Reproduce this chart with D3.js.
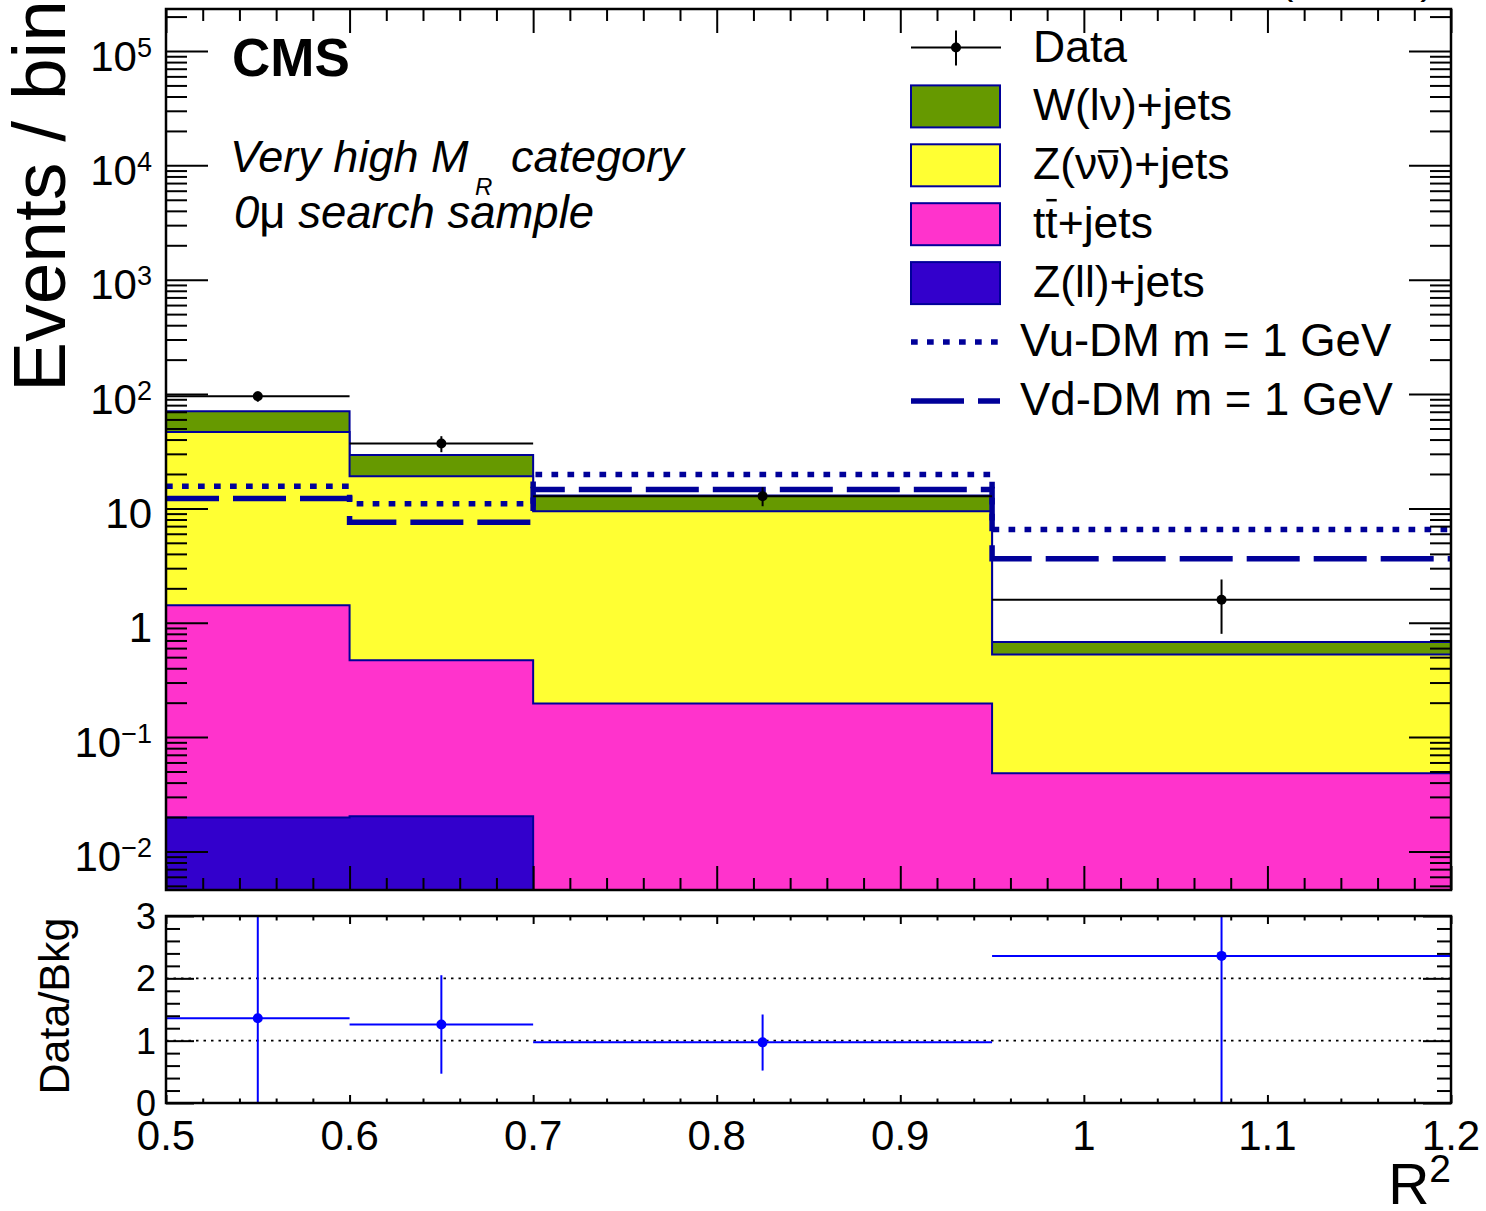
<!DOCTYPE html>
<html><head><meta charset="utf-8">
<script src="https://cdn.jsdelivr.net/npm/d3@7"></script>
<style>
body{margin:0;background:#fff}
svg{display:block}
text{font-family:"Liberation Sans",Arial,Helvetica,sans-serif;fill:#000}
</style>
</head><body>
<svg id="c" width="1486" height="1211"></svg>
<script>
// ---------------- data ----------------
const binEdges = [0.5, 0.6, 0.7, 0.95, 1.2];
const wlnu  = [24.1, 10.3, 3.52, 0.149];
const znunu = [45.2, 18.6, 9.25, 0.48];
const ttbar = [1.40, 0.449, 0.197, 0.0483];
const zll   = [0.0198, 0.0203, 0, 0];
const dataVals = [95.5, 36.9, 12.8, 1.59];
const dataLo   = [85.7, 31.0, 10.45, 0.80];
const dataHi   = [105.3, 42.8, 15.3, 2.39];
const vuDM = [15.6, 11.0, 19.8, 6.55];
const vdDM = [12.2, 7.58, 14.6, 3.63];
const ratioVals = [1.36, 1.26, 0.973, 2.36];
const ratioLo   = [0, 0.47, 0.52, 0];
const ratioHi   = [3.2, 2.05, 1.42, 3.2];
const xTickVals   = [0.5, 0.6, 0.7, 0.8, 0.9, 1.0, 1.1, 1.2];
const xTickLabels = ["0.5", "0.6", "0.7", "0.8", "0.9", "1", "1.1", "1.2"];
const yTickVals = [1e-2, 1e-1, 1, 10, 1e2, 1e3, 1e4, 1e5];
const yTickBase = ["10", "10", "1", "10", "10", "10", "10", "10"];
const yTickExp  = ["\u22122", "\u22121", "", "", "2", "3", "4", "5"];
const ratioTickVals = [0, 1, 2, 3];
const ratioTickLabels = ["0", "1", "2", "3"];
const legendNames = ["Data", "W(l\u03bd)+jets", "Z(\u03bd\u03bd)+jets", "tt+jets", "Z(ll)+jets", "Vu-DM m = 1 GeV", "Vd-DM m = 1 GeV"];
const colW = "#669900", colZ = "#ffff33", colT = "#ff33cc", colL = "#3300cc", navy = "#000099";

// ---------------- layout ----------------
const L = 166, R = 1451, T = 9, B = 890, RT = 916, RB = 1103;
const svg = d3.select("#c");
const x = d3.scaleLinear().domain([0.5, 1.2]).range([L, R]);
const y = d3.scaleLog().domain([0.0046, 2.33e5]).range([B, T]);
const yr = d3.scaleLinear().domain([0, 3]).range([RB, RT]);
const yv = v => v <= y.domain()[0] ? B : y(v);

const defs = svg.append("defs");
defs.append("clipPath").attr("id", "cm").append("rect").attr("x", L).attr("y", T).attr("width", R - L).attr("height", B - T);
defs.append("clipPath").attr("id", "cr").append("rect").attr("x", L).attr("y", RT).attr("width", R - L).attr("height", RB - RT);

const main = svg.append("g").attr("clip-path", "url(#cm)");
const stepPts = vals => vals.flatMap((v, i) => [[binEdges[i], v], [binEdges[i + 1], v]]);

// stacked cumulative
const cL = zll.slice();
const cT = cL.map((v, i) => v + ttbar[i]);
const cZ = cT.map((v, i) => v + znunu[i]);
const cW = cZ.map((v, i) => v + wlnu[i]);
const layers = [[cW, colW], [cZ, colZ], [cT, colT], [cL, colL]];
const area = d3.area().x(d => x(d[0])).y0(B).y1(d => yv(d[1]));
const line = d3.line().x(d => x(d[0])).y(d => yv(d[1]));
layers.forEach(([vals, col]) => {
  const pts = stepPts(vals);
  main.append("path").attr("d", area(pts)).attr("fill", col).attr("stroke", "none");
  main.append("path").attr("d", line(pts)).attr("fill", "none").attr("stroke", navy).attr("stroke-width", 2);
});

// signals
main.append("path").attr("d", line(stepPts(vuDM))).attr("fill", "none").attr("stroke", navy)
  .attr("stroke-width", 5.5).attr("stroke-dasharray", "6.7,9.3");
main.append("path").attr("d", line(stepPts(vdDM))).attr("fill", "none").attr("stroke", navy)
  .attr("stroke-width", 5.5).attr("stroke-dasharray", "53,14");

// data
dataVals.forEach((v, i) => {
  const xc = x((binEdges[i] + binEdges[i + 1]) / 2);
  main.append("line").attr("x1", x(binEdges[i])).attr("x2", x(binEdges[i + 1])).attr("y1", y(v)).attr("y2", y(v))
    .attr("stroke", "#000").attr("stroke-width", 2);
  main.append("line").attr("x1", xc).attr("x2", xc).attr("y1", y(dataLo[i])).attr("y2", y(dataHi[i]))
    .attr("stroke", "#000").attr("stroke-width", 2);
  main.append("circle").attr("cx", xc).attr("cy", y(v)).attr("r", 5).attr("fill", "#000");
});

// ---------------- ratio ----------------
const rat = svg.append("g").attr("clip-path", "url(#cr)");
[1, 2].forEach(v => rat.append("line").attr("x1", L).attr("x2", R).attr("y1", yr(v)).attr("y2", yr(v))
  .attr("stroke", "#000").attr("stroke-width", 1.6).attr("stroke-dasharray", "2.5,5"));
ratioVals.forEach((v, i) => {
  const xc = x((binEdges[i] + binEdges[i + 1]) / 2);
  rat.append("line").attr("x1", x(binEdges[i])).attr("x2", x(binEdges[i + 1])).attr("y1", yr(v)).attr("y2", yr(v))
    .attr("stroke", "#0000ff").attr("stroke-width", 2);
  rat.append("line").attr("x1", xc).attr("x2", xc).attr("y1", yr(ratioLo[i])).attr("y2", yr(ratioHi[i]))
    .attr("stroke", "#0000ff").attr("stroke-width", 2);
  rat.append("circle").attr("cx", xc).attr("cy", yr(v)).attr("r", 5).attr("fill", "#0000ff");
});

// ---------------- axes / ticks ----------------
function ticks(axisFn, scale, vals, size, tr) {
  const g = svg.append("g").attr("transform", tr)
    .call(axisFn(scale).tickValues(vals).tickSize(size).tickSizeOuter(0).tickFormat(""));
  g.select(".domain").remove();
  g.selectAll("line").attr("stroke", "#000").attr("stroke-width", 2);
  g.selectAll("text").remove();
}
const xMinor = d3.range(0, 36).map(k => +(0.5 + 0.02 * k).toFixed(2)).filter(v => !xTickVals.some(t => Math.abs(t - v) < 1e-9));
const yMinor = [];
for (let d = -3; d <= 5; d++) for (let k = 2; k <= 9; k++) {
  const v = k * Math.pow(10, d);
  if (v > y.domain()[0] && v < y.domain()[1]) yMinor.push(v);
}
// main panel
ticks(d3.axisLeft, y, yTickVals, -42, `translate(${L},0)`);
ticks(d3.axisLeft, y, yMinor, -21, `translate(${L},0)`);
ticks(d3.axisRight, y, yTickVals, -42, `translate(${R},0)`);
ticks(d3.axisRight, y, yMinor, -21, `translate(${R},0)`);
ticks(d3.axisBottom, x, xTickVals, -24, `translate(0,${B})`);
ticks(d3.axisBottom, x, xMinor, -12, `translate(0,${B})`);
ticks(d3.axisTop, x, xTickVals, -24, `translate(0,${T})`);
ticks(d3.axisTop, x, xMinor, -12, `translate(0,${T})`);
// ratio panel
const rMinor = d3.range(0, 16).map(k => +(0.2 * k).toFixed(1)).filter(v => !ratioTickVals.includes(v));
ticks(d3.axisLeft, yr, ratioTickVals, -28, `translate(${L},0)`);
ticks(d3.axisLeft, yr, rMinor, -14, `translate(${L},0)`);
ticks(d3.axisRight, yr, ratioTickVals, -28, `translate(${R},0)`);
ticks(d3.axisRight, yr, rMinor, -14, `translate(${R},0)`);
ticks(d3.axisBottom, x, xTickVals, -8, `translate(0,${RB})`);
ticks(d3.axisBottom, x, xMinor, -4.5, `translate(0,${RB})`);
ticks(d3.axisTop, x, xTickVals, -8, `translate(0,${RT})`);
ticks(d3.axisTop, x, xMinor, -4.5, `translate(0,${RT})`);

// frames
svg.append("rect").attr("x", L).attr("y", T).attr("width", R - L).attr("height", B - T)
  .attr("fill", "none").attr("stroke", "#000").attr("stroke-width", 2.5);
svg.append("rect").attr("x", L).attr("y", RT).attr("width", R - L).attr("height", RB - RT)
  .attr("fill", "none").attr("stroke", "#000").attr("stroke-width", 2.5);

// y tick labels main
yTickVals.forEach((v, i) => {
  const t = svg.append("text").attr("x", 152).attr("y", y(v) + 19.5).attr("text-anchor", "end").attr("font-size", 42);
  t.append("tspan").text(yTickBase[i]);
  if (yTickExp[i]) t.append("tspan").attr("font-size", 27).attr("dy", -14).text(yTickExp[i]);
});
// ratio y labels
ratioTickVals.forEach((v, i) => {
  svg.append("text").attr("x", 156).attr("y", yr(v) + 13).attr("text-anchor", "end").attr("font-size", 36).text(ratioTickLabels[i]);
});
// x labels
xTickVals.forEach((v, i) => {
  svg.append("text").attr("x", x(v)).attr("y", 1150).attr("text-anchor", "middle").attr("font-size", 42).text(xTickLabels[i]);
});

// axis titles
svg.append("text").attr("transform", "translate(65,0) rotate(-90)").attr("text-anchor", "end").attr("font-size", 75).text("Events / bin");
svg.append("text").attr("transform", "translate(69,1006) rotate(-90)").attr("text-anchor", "middle").attr("font-size", 43).text("Data/Bkg");
const rt = svg.append("text").attr("x", R).attr("y", 1204).attr("text-anchor", "end").attr("font-size", 57);
rt.append("tspan").text("R");
rt.append("tspan").attr("font-size", 39).attr("dy", -22).text("2");

// lumi (cut at top)
svg.append("text").attr("x", 1434).attr("y", -6).attr("text-anchor", "end").attr("font-size", 41).text("2.2 fb\u207b\u00b9 (13 TeV)");

// CMS labels
svg.append("text").attr("x", 232).attr("y", 76).attr("font-size", 53).attr("font-weight", "bold").text("CMS");
svg.append("text").attr("x", 230).attr("y", 172).attr("font-size", 45).attr("font-style", "italic").text("Very high M");
svg.append("text").attr("x", 475).attr("y", 195).attr("font-size", 24).attr("font-style", "italic").text("R");
svg.append("text").attr("x", 511).attr("y", 172).attr("font-size", 45).attr("font-style", "italic").text("category");
const s2 = svg.append("text").attr("x", 234).attr("y", 228).attr("font-size", 45.5);
s2.append("tspan").attr("font-style", "italic").text("0");
s2.append("tspan").text("\u03bc");
s2.append("tspan").attr("font-style", "italic").text(" search sample");

// ---------------- legend ----------------
const rowY = d3.range(7).map(i => 47.5 + 58.9 * i);
const lg = svg.append("g");
// data entry
lg.append("line").attr("x1", 911).attr("x2", 1001).attr("y1", rowY[0]).attr("y2", rowY[0]).attr("stroke", "#000").attr("stroke-width", 2);
lg.append("line").attr("x1", 956).attr("x2", 956).attr("y1", rowY[0] - 17).attr("y2", rowY[0] + 18).attr("stroke", "#000").attr("stroke-width", 2);
lg.append("circle").attr("cx", 956).attr("cy", rowY[0]).attr("r", 5).attr("fill", "#000");
[colW, colZ, colT, colL].forEach((c, i) => {
  lg.append("rect").attr("x", 911).attr("y", rowY[i + 1] - 21).attr("width", 89).attr("height", 42)
    .attr("fill", c).attr("stroke", navy).attr("stroke-width", 2);
});
lg.append("line").attr("x1", 911).attr("x2", 1000).attr("y1", rowY[5]).attr("y2", rowY[5]).attr("stroke", navy)
  .attr("stroke-width", 5.5).attr("stroke-dasharray", "6.7,9.3");
lg.append("line").attr("x1", 911).attr("x2", 1000).attr("y1", rowY[6]).attr("y2", rowY[6]).attr("stroke", navy)
  .attr("stroke-width", 5.5).attr("stroke-dasharray", "53,14");
const lt = legendNames.map((n, i) => lg.append("text").attr("x", i >= 5 ? 1020 : 1033).attr("y", rowY[i] + 14)
  .attr("font-size", i >= 5 ? 45.5 : 44.5).text(n));
// overbars (anti-neutrino, anti-top)
function overbar(t, idx, dyUp) {
  const node = t.node();
  const s = node.getStartPositionOfChar(idx), e = node.getEndPositionOfChar(idx);
  lg.append("line").attr("x1", s.x + 1).attr("x2", e.x - 1).attr("y1", s.y - dyUp).attr("y2", s.y - dyUp)
    .attr("stroke", "#000").attr("stroke-width", 2.5);
}
overbar(lt[2], 3, 28);
overbar(lt[3], 1, 38);
</script>
</body></html>
